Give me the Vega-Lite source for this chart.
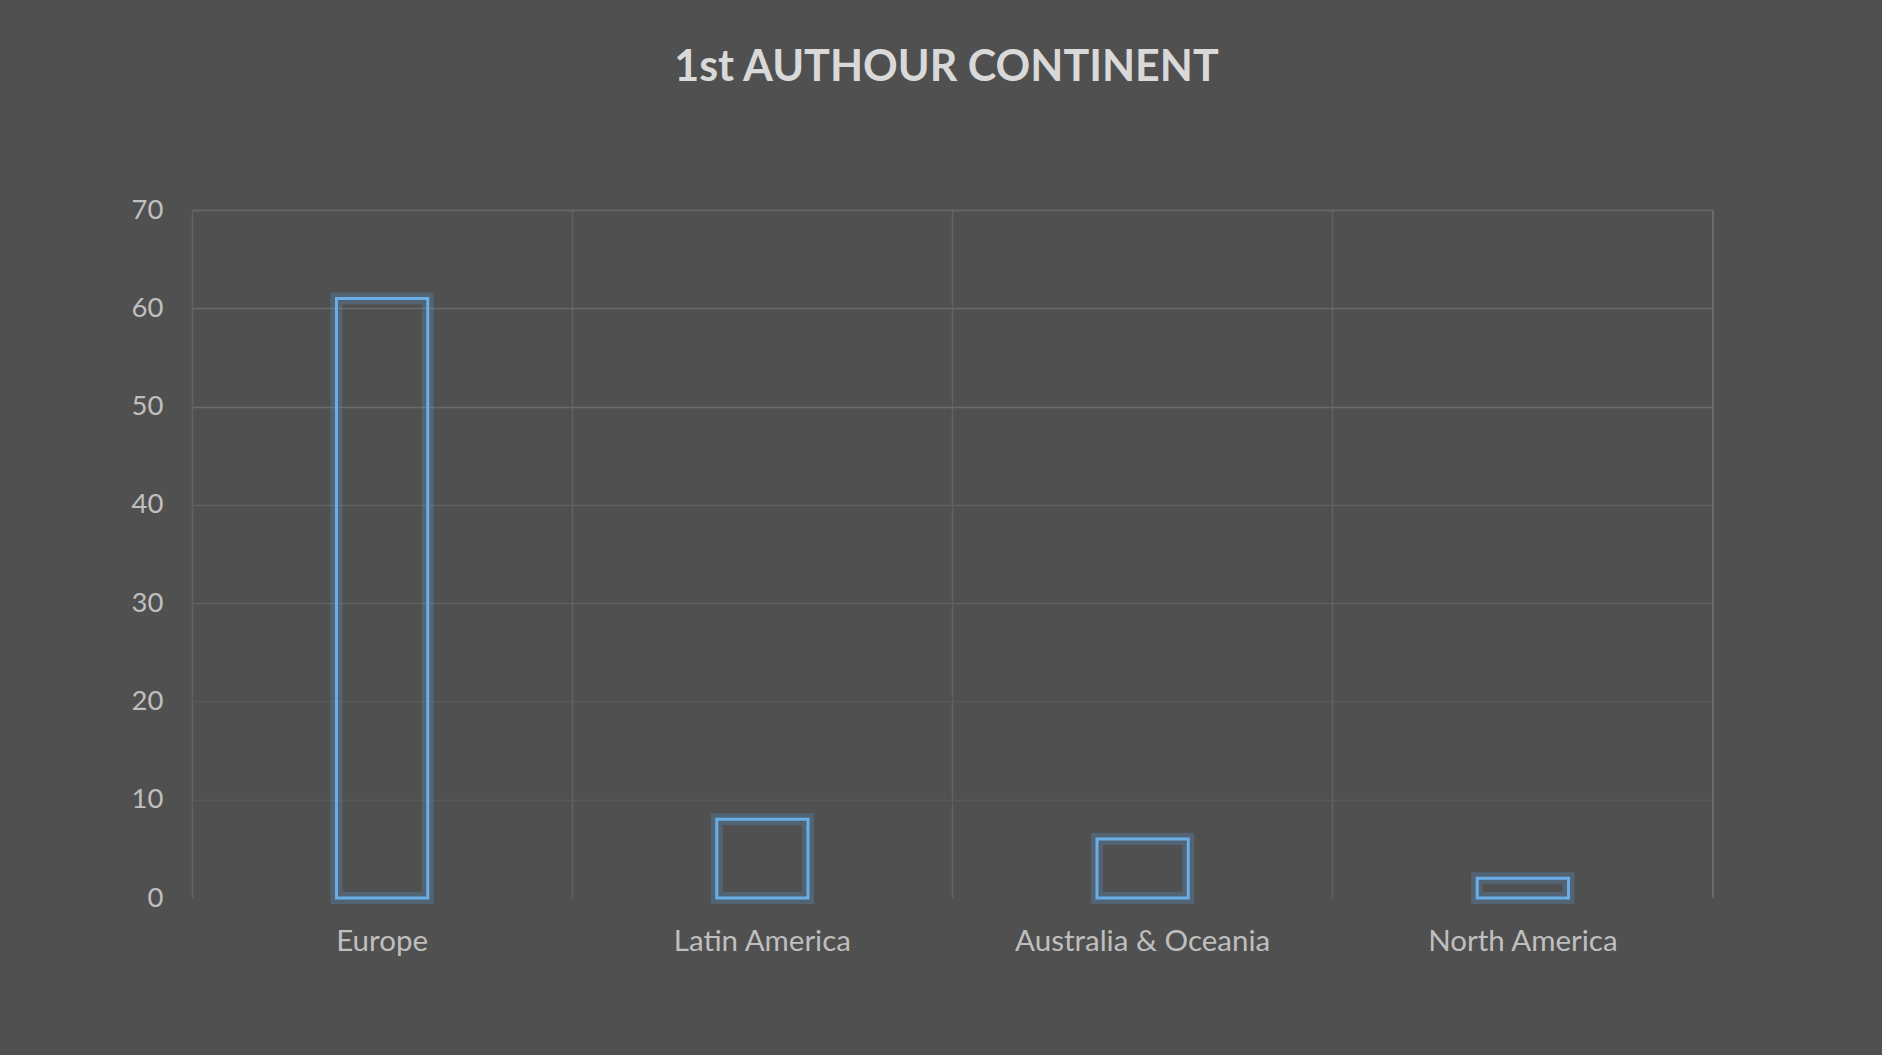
{
  "$schema": "https://vega.github.io/schema/vega-lite/v6.json",
  "autosize": "none",
  "width": 1521,
  "height": 688,
  "padding": {"left": 192, "top": 210, "right": 169, "bottom": 157},
  "background": "#505050",
  "title": {
    "text": "1st AUTHOUR CONTINENT",
    "font": "Lato",
    "fontSize": 43,
    "fontWeight": "bold",
    "color": "#d9d9d9",
    "anchor": "middle",
    "frame": "group",
    "dx": -6,
    "baseline": "alphabetic",
    "offset": 72
  },
  "data": {
    "values": [
      {"continent": "Europe", "count": 61},
      {"continent": "Latin America", "count": 8},
      {"continent": "Australia & Oceania", "count": 6},
      {"continent": "North America", "count": 2}
    ]
  },
  "config": {
    "view": {"stroke": null},
    "axis": {"labelFont": "Lato", "labelFontSize": 27.5, "labelColor": "#bfbfbf", "ticks": false, "title": null, "labelLimit": 400}
  },
  "encoding": {
    "x": {
      "field": "continent",
      "type": "nominal",
      "sort": null,
      "scale": {"paddingInner": 0, "paddingOuter": 0},
      "axis": {
        "labelAngle": 0,
        "labelFontSize": 29.5,
        "labelPadding": 29,
        "domain": false,
        "grid": true,
        "bandPosition": 0,
        "gridColor": "#626262",
        "gridWidth": 1.5
      }
    },
    "y": {
      "field": "count",
      "type": "quantitative",
      "scale": {"domain": [0, 70]},
      "axis": {
        "values": [0, 10, 20, 30, 40, 50, 60, 70],
        "labelPadding": 29,
        "domain": false,
        "grid": true,
        "gridWidth": 1.5,
        "gridColor": {
          "condition": [
            {"test": "datum.value == 0", "value": "#505050"},
            {"test": "datum.value <= 20", "value": "#595959"},
            {"test": "datum.value <= 40", "value": "#616161"}
          ],
          "value": "#6a6a6a"
        }
      }
    }
  },
  "layer": [
    {
      "mark": {"type": "bar", "width": {"band": 0.24}, "fill": null, "fillOpacity": 0, "stroke": "#5b9bd5", "strokeWidth": 12, "strokeOpacity": 0.28}
    },
    {
      "mark": {"type": "bar", "width": {"band": 0.24}, "fill": null, "fillOpacity": 0, "stroke": "#6aaee8", "strokeWidth": 3}
    },
    {
      "mark": {"type": "rule", "color": "#6a6a6a", "strokeWidth": 1.5},
      "encoding": {
        "x": {"value": 1521},
        "y": {"value": 0},
        "y2": {"value": 688}
      }
    }
  ]
}
